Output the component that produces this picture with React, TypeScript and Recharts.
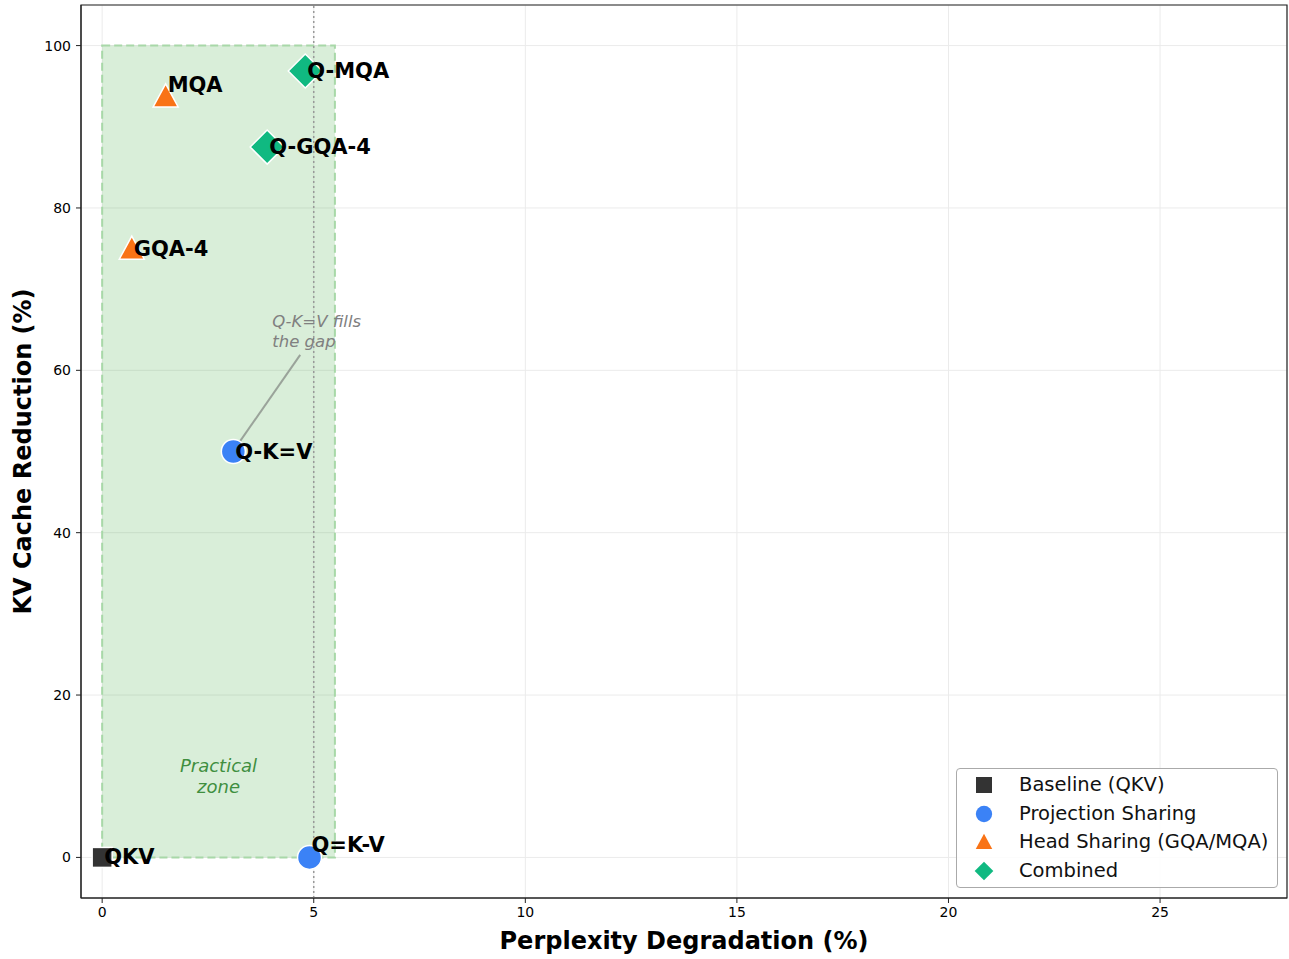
import {
    CartesianGrid,
    ReferenceArea,
    ReferenceDot,
    ReferenceLine,
    Scatter,
    ScatterChart,
    XAxis,
    YAxis,
} from 'recharts';

// values
const baselinePoints = [{ name: 'QKV', ppl: 0, kv: 0 }];
const projectionPoints = [
    { name: 'Q=K-V', ppl: 4.9, kv: 0 },
    { name: 'Q-K=V', ppl: 3.1, kv: 50 },
];
const headPoints = [
    { name: 'GQA-4', ppl: 0.7, kv: 75 },
    { name: 'MQA', ppl: 1.5, kv: 93.75 },
];
const combinedPoints = [
    { name: 'Q-GQA-4', ppl: 3.9, kv: 87.5 },
    { name: 'Q-MQA', ppl: 4.8, kv: 96.875 },
];

const xTicks = [0, 5, 10, 15, 20, 25];
const yTicks = [0, 20, 40, 60, 80, 100];

const FONT = 'DejaVu Sans, Verdana, sans-serif';

const SERIES = [
    { key: 'Baseline (QKV)', data: baselinePoints, color: '#333333', shape: 'square', legendScale: 0.8 },
    { key: 'Projection Sharing', data: projectionPoints, color: '#3b82f6', shape: 'circle', legendScale: 0.68 },
    { key: 'Head Sharing (GQA/MQA)', data: headPoints, color: '#f97316', shape: 'triangle', legendScale: 0.66 },
    { key: 'Combined', data: combinedPoints, color: '#10b981', shape: 'diamond', legendScale: 0.55 },
];

// a couple of labels sit a little above their point
const LABEL_DY: Record<string, number> = { MQA: -11, 'Q=K-V': -12 };

const Marker = ({ shape, color, cx, cy, scale = 1, edge = true }: any) => {
    const stroke = edge ? '#ffffff' : 'none';
    if (shape === 'square') {
        const h = 10 * scale;
        return <rect x={cx - h} y={cy - h} width={2 * h} height={2 * h} fill={color} stroke={stroke} strokeWidth={1.5} />;
    }
    if (shape === 'circle') {
        return <circle cx={cx} cy={cy} r={12 * scale} fill={color} stroke={stroke} strokeWidth={1.5} />;
    }
    if (shape === 'triangle') {
        const h = 12.5 * scale;
        return (
            <polygon
                points={`${cx},${cy - h} ${cx - h},${cy + h * 0.85} ${cx + h},${cy + h * 0.85}`}
                fill={color}
                stroke={stroke}
                strokeWidth={1.5}
            />
        );
    }
    const d = 17 * scale;
    return (
        <polygon
            points={`${cx},${cy - d} ${cx + d},${cy} ${cx},${cy + d} ${cx - d},${cy}`}
            fill={color}
            stroke={stroke}
            strokeWidth={1.5}
        />
    );
};

const makeShape = (shape: string, color: string) => (props: any) => {
    const { cx, cy, payload } = props;
    const dy = LABEL_DY[payload.name] ?? 0;
    return (
        <g>
            <Marker shape={shape} color={color} cx={cx} cy={cy} />
            <text
                x={cx + 2}
                y={cy + dy}
                dominantBaseline="central"
                fontFamily={FONT}
                fontWeight="bold"
                fontSize={21}
                fill="#000"
            >
                {payload.name}
            </text>
        </g>
    );
};

const LegendBox = () => (
    <div
        style={{
            position: 'absolute',
            left: 956,
            top: 768,
            border: '1px solid #aaaaaa',
            borderRadius: 4,
            background: 'rgba(255,255,255,0.85)',
            width: 322,
            height: 120,
            boxSizing: 'border-box',
            fontFamily: FONT,
            fontSize: 19.5,
            color: '#111',
        }}
    >
        {SERIES.map((s, i) => (
            <div key={s.key} style={{ position: 'absolute', left: 0, top: 3 + i * 28.7, height: 26, width: '100%' }}>
                <svg width={40} height={26} style={{ position: 'absolute', left: 7, top: 0 }}>
                    <Marker shape={s.shape} color={s.color} cx={20} cy={13} scale={s.legendScale} edge={false} />
                </svg>
                <span style={{ position: 'absolute', left: 62, top: 0, lineHeight: '26px', whiteSpace: 'nowrap' }}>
                    {s.key}
                </span>
            </div>
        ))}
    </div>
);

const tickStyle = { fontFamily: FONT, fontSize: 14, fill: '#000' };
const axisLabelStyle = { fontFamily: FONT, fontSize: 24, fontWeight: 'bold', fill: '#000' };

const App = () => {
    return (
        <div style={{ position: 'absolute', left: 0, top: 0, width: 1289, height: 959, background: '#fff' }}>
            <ScatterChart width={1289} height={959} margin={{ top: 5, right: 2, bottom: 0, left: 1 }}>
                <CartesianGrid stroke="#ebebeb" strokeWidth={1} />
                <XAxis
                    type="number"
                    dataKey="ppl"
                    domain={[-0.5, 28]}
                    ticks={xTicks}
                    allowDataOverflow
                    height={61}
                    tick={tickStyle}
                    tickSize={5}
                    tickMargin={4}
                    stroke="#222"
                    label={{ value: 'Perplexity Degradation (%)', position: 'center', dy: 12, style: axisLabelStyle }}
                />
                <YAxis
                    type="number"
                    dataKey="kv"
                    domain={[-5, 105]}
                    ticks={yTicks}
                    allowDataOverflow
                    width={80}
                    tick={tickStyle}
                    tickSize={5}
                    tickMargin={5}
                    stroke="#222"
                    label={{
                        value: 'KV Cache Reduction (%)',
                        angle: -90,
                        position: 'center',
                        dx: -19,
                        style: axisLabelStyle,
                    }}
                />
                <ReferenceArea
                    x1={0}
                    x2={5.5}
                    y1={0}
                    y2={100}
                    fill="#2ca02c"
                    fillOpacity={0.18}
                    stroke="#a8d8a8"
                    strokeWidth={2}
                    strokeDasharray="8 4"
                />
                <ReferenceArea
                    x1={-0.5}
                    x2={28}
                    y1={-5}
                    y2={105}
                    fill="none"
                    stroke="#222"
                    strokeWidth={1.2}
                    ifOverflow="visible"
                />
                <ReferenceLine x={5} stroke="#999999" strokeWidth={1.5} strokeDasharray="2 3" />
                <ReferenceLine
                    segment={[
                        { x: 4.68, y: 61.9 },
                        { x: 3.17, y: 50.6 },
                    ]}
                    stroke="#9aa39a"
                    strokeWidth={2}
                />
                <ReferenceDot
                    x={4.02}
                    y={66}
                    r={0}
                    shape={(p: any) => (
                        <text x={p.cx} y={p.cy} fontFamily={FONT} fontStyle="italic" fontSize={16.5} fill="#808080">
                            <tspan x={p.cx} dy={5}>Q-K=V fills</tspan>
                            <tspan x={p.cx} dy={20}>the gap</tspan>
                        </text>
                    )}
                />
                <ReferenceDot
                    x={2.75}
                    y={10}
                    r={0}
                    shape={(p: any) => (
                        <text x={p.cx} y={p.cy} textAnchor="middle" fontFamily={FONT} fontStyle="italic" fontSize={18} fill="#3f8f3f">
                            <tspan x={p.cx} dy={-4}>Practical</tspan>
                            <tspan x={p.cx} dy={21}>zone</tspan>
                        </text>
                    )}
                />
                {SERIES.map((s) => (
                    <Scatter
                        key={s.key}
                        name={s.key}
                        data={s.data}
                        fill={s.color}
                        shape={makeShape(s.shape, s.color)}
                        isAnimationActive={false}
                    />
                ))}
            </ScatterChart>
            <LegendBox />
        </div>
    );
};

export default App;
